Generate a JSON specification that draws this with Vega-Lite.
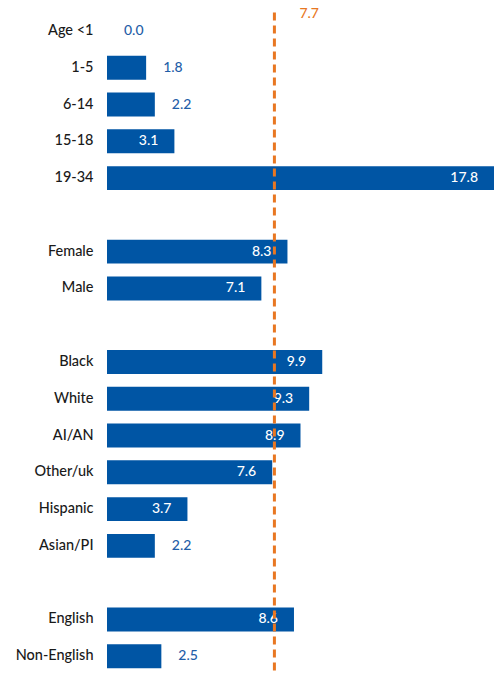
{
  "$schema": "https://vega.github.io/schema/vega-lite/v6.json",
  "autosize": {"type": "none"},
  "width": 387,
  "height": 662,
  "padding": {"left": 107, "top": 12.6, "right": 0, "bottom": 0},
  "config": {"view": {"stroke": null}, "font": "Lato"},
  "data": {
    "values": [
      {"group": "Age <1", "value": 0.0},
      {"group": "1-5", "value": 1.8},
      {"group": "6-14", "value": 2.2},
      {"group": "15-18", "value": 3.1},
      {"group": "19-34", "value": 17.8},
      {"group": "Female", "value": 8.3},
      {"group": "Male", "value": 7.1},
      {"group": "Black", "value": 9.9},
      {"group": "White", "value": 9.3},
      {"group": "AI/AN", "value": 8.9},
      {"group": "Other/uk", "value": 7.6},
      {"group": "Hispanic", "value": 3.7},
      {"group": "Asian/PI", "value": 2.2},
      {"group": "English", "value": 8.6},
      {"group": "Non-English", "value": 2.5}
    ]
  },
  "encoding": {
    "y": {
      "field": "group",
      "type": "nominal",
      "scale": {
        "domain": ["Age <1", "1-5", "6-14", "15-18", "19-34", "gap1", "Female", "Male", "gap2", "Black", "White", "AI/AN", "Other/uk", "Hispanic", "Asian/PI", "gap3", "English", "Non-English"],
        "paddingInner": 0.35,
        "paddingOuter": 0.175
      },
      "axis": {
        "title": null,
        "ticks": false,
        "domain": false,
        "labelPadding": 14,
        "labelFontSize": 14.5,
        "labelFontWeight": 500,
        "labelColor": "#1a1a1a",
        "labelFont": "Lato",
        "labelExpr": "indexof(datum.label, 'gap') == 0 ? '' : datum.label"
      }
    }
  },
  "layer": [
    {
      "mark": {"type": "bar", "color": "#0055a4"},
      "encoding": {
        "x": {"field": "value", "type": "quantitative", "scale": {"domain": [0, 17.8], "nice": false}, "axis": null}
      }
    },
    {
      "transform": [{"filter": "datum.value >= 3"}],
      "mark": {"type": "text", "align": "right", "dx": -16, "color": "white", "fontSize": 14, "font": "Lato", "fontWeight": 500},
      "encoding": {
        "x": {"field": "value", "type": "quantitative"},
        "text": {"field": "value", "type": "quantitative", "format": ".1f"}
      }
    },
    {
      "transform": [{"filter": "datum.value < 3"}],
      "mark": {"type": "text", "align": "left", "dx": 17, "color": "#1f5ea8", "fontSize": 14, "font": "Lato", "fontWeight": 500},
      "encoding": {
        "x": {"field": "value", "type": "quantitative"},
        "text": {"field": "value", "type": "quantitative", "format": ".1f"}
      }
    },
    {
      "data": {"values": [{"mean": 7.7}]},
      "mark": {"type": "rule", "color": "#e87722", "strokeWidth": 3, "strokeDash": [8, 5]},
      "encoding": {
        "x": {"field": "mean", "type": "quantitative"},
        "y": null
      }
    },
    {
      "data": {"values": [{"mean": 7.7, "group": "Age <1"}]},
      "mark": {"type": "text", "align": "left", "dx": 25, "dy": -17, "color": "#e87722", "fontSize": 14, "font": "Lato", "fontWeight": 500},
      "encoding": {
        "x": {"field": "mean", "type": "quantitative"},
        "text": {"field": "mean", "type": "quantitative", "format": ".1f"}
      }
    }
  ]
}
